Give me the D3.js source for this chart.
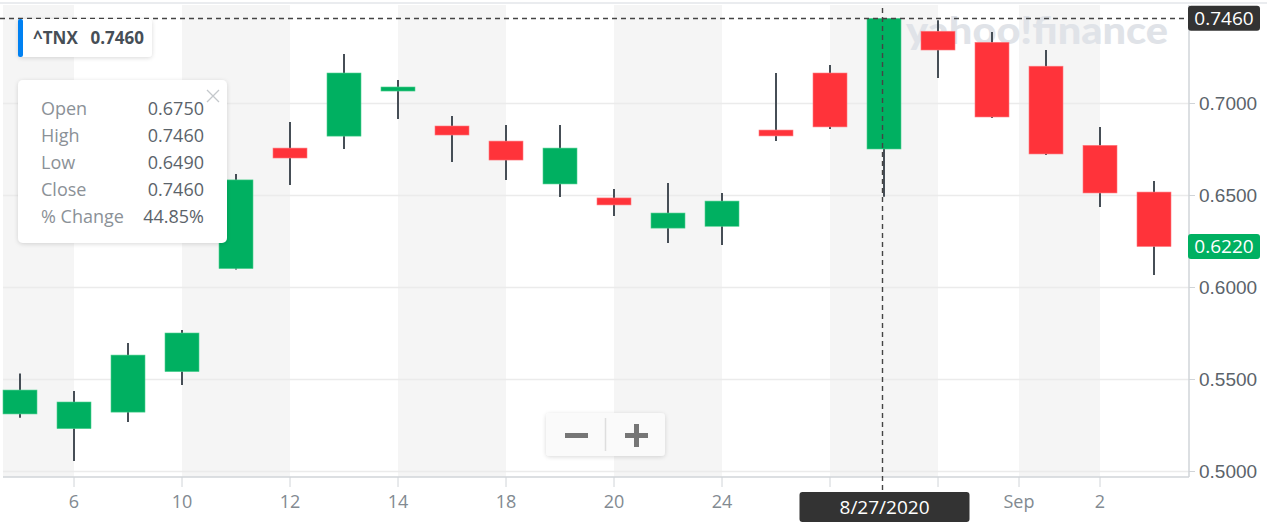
<!DOCTYPE html>
<meta charset="utf-8">
<script src="https://d3js.org/d3.v7.min.js"></script>
<style>
body { margin: 0; background: #fff; }
svg { display: block; font-family: "Open Sans", sans-serif; }
.axis text { fill: #5b636a; font-size: 19px; }
.xaxis text { fill: #828a91; font-size: 18px; }
.wick { stroke: #464e56; stroke-width: 2; }
</style>
<body>
<script>

// daily ^TNX candles, Aug 5 - Sep 3 2020
var dates  = ["2020-08-05","2020-08-06","2020-08-07","2020-08-10","2020-08-11","2020-08-12","2020-08-13","2020-08-14",
              "2020-08-17","2020-08-18","2020-08-19","2020-08-20","2020-08-21","2020-08-24","2020-08-25","2020-08-26",
              "2020-08-27","2020-08-28","2020-08-31","2020-09-01","2020-09-02","2020-09-03"];
var opens  = [0.531,0.523,0.532,0.554,0.610,0.6755,0.682,0.7065,0.6875,0.6793,0.656,0.6484,0.632,0.633,0.6853,0.7163,0.675,0.739,0.733,0.720,0.677,0.6516];
var highs  = [0.553,0.5435,0.5696,0.5766,0.6614,0.6897,0.7266,0.7125,0.6929,0.688,0.688,0.6533,0.6565,0.6511,0.7163,0.7207,0.746,0.745,0.7386,0.7288,0.687,0.6576];
var lows   = [0.529,0.5054,0.5266,0.5467,0.6095,0.6554,0.675,0.6913,0.6679,0.6582,0.6489,0.6386,0.6239,0.6228,0.6793,0.6859,0.649,0.7136,0.6918,0.6717,0.6435,0.6065];
var closes = [0.544,0.5375,0.563,0.575,0.6582,0.6701,0.7163,0.7087,0.6826,0.669,0.6755,0.6446,0.6402,0.6467,0.6821,0.687,0.746,0.7288,0.6924,0.6723,0.6511,0.622];

var tickDates  = ["2020-08-06","2020-08-10","2020-08-12","2020-08-14","2020-08-18","2020-08-20","2020-08-24","2020-08-26","2020-08-28","2020-09-01","2020-09-02"];
var tickLabels = ["6","10","12","14","18","20","24","26","28","Sep","2"];
var yTicks = [0.50, 0.55, 0.60, 0.65, 0.70];

var tipLabels = ["Open","High","Low","Close","% Change"];
var tipValues = ["0.6750","0.7460","0.6490","0.7460","44.85%"];

var W = 1267, H = 531;
var plot = {left: 3, right: 1189, top: 5, bottom: 477};
var green = "#00b061", red = "#ff333a";

var svg = d3.select("body").append("svg").attr("width", W).attr("height", H);

var defs = svg.append("defs");
var f = defs.append("filter").attr("id", "shadow").attr("x", "-20%").attr("y", "-20%").attr("width", "140%").attr("height", "150%");
f.append("feDropShadow").attr("dx", 0).attr("dy", 1).attr("stdDeviation", 2).attr("flood-color", "#000").attr("flood-opacity", 0.15);

var x = d3.scaleBand().domain(dates).range([-7, -7 + 54 * dates.length]).padding(0);
var y = d3.scaleLinear().domain([0.5, 0.7]).range([471, 103]);
var bodyW = 34;
function cx(d) { return x(d) + x.bandwidth() / 2; }

// tick position: band centre, except the month start sits on the band edge
function tickX(d, i) { return tickLabels[i] == "Sep" ? x(d) : cx(d); }

// top rule
svg.append("line").attr("x1", 0).attr("x2", W).attr("y1", 3).attr("y2", 3).attr("stroke", "#e3e6ea").attr("stroke-width", 1.5);

// alternating background bands
var edges = [plot.left].concat(tickDates.map(tickX)).concat([plot.right]);
svg.append("g").selectAll("rect").data(d3.range(edges.length - 1)).enter().append("rect")
  .attr("x", function(i) { return edges[i]; })
  .attr("width", function(i) { return edges[i + 1] - edges[i]; })
  .attr("y", plot.top).attr("height", plot.bottom - plot.top)
  .attr("fill", function(i) { return i % 2 == 0 ? "#f5f5f5" : "#fff"; });

// horizontal grid
svg.append("g").selectAll("line").data(yTicks).enter().append("line")
  .attr("x1", plot.left).attr("x2", plot.right)
  .attr("y1", function(d) { return Math.round(y(d)) + 0.5; })
  .attr("y2", function(d) { return Math.round(y(d)) + 0.5; })
  .attr("stroke", "#ebebeb").attr("stroke-width", 1.5);

// watermark
svg.append("text").attr("x", 906).attr("y", 44)
  .attr("textLength", 262).attr("lengthAdjust", "spacingAndGlyphs")
  .style("font-family", "Lato, sans-serif").style("font-weight", 900).style("font-size", "37px")
  .attr("fill", "#e0e3e8").text("yahoo!finance");

// candles
var candles = svg.append("g").selectAll("g").data(dates).enter().append("g");
candles.append("line").attr("class", "wick")
  .attr("x1", cx).attr("x2", cx)
  .attr("y1", function(d, i) { return y(highs[i]); })
  .attr("y2", function(d, i) { return y(lows[i]); });
candles.append("rect")
  .attr("x", function(d) { return cx(d) - bodyW / 2; })
  .attr("width", bodyW)
  .attr("y", function(d, i) { return y(Math.max(opens[i], closes[i])); })
  .attr("height", function(d, i) { return Math.max(3, Math.abs(y(opens[i]) - y(closes[i]))); })
  .attr("fill", function(d, i) { return closes[i] >= opens[i] ? green : red; })
  .attr("stroke", function(d, i) { return closes[i] >= opens[i] ? "#4fd08f" : "#ff7a7f"; })
  .attr("stroke-width", 0.6);

// right axis
var yAxis = d3.axisRight(y).tickValues(yTicks).tickSize(6).tickPadding(4).tickFormat(d3.format(".4f"));
var ya = svg.append("g").attr("class", "axis").attr("transform", "translate(" + plot.right + ",0)").call(yAxis);
ya.select(".domain").remove();
ya.selectAll(".tick line").attr("stroke", "#d0d4d8");
svg.append("line").attr("x1", plot.right).attr("x2", plot.right).attr("y1", plot.top).attr("y2", plot.bottom).attr("stroke", "#d0d4d8").attr("stroke-width", 1.5);

// bottom axis
svg.append("line").attr("x1", plot.left).attr("x2", plot.right).attr("y1", plot.bottom).attr("y2", plot.bottom).attr("stroke", "#d0d4d8").attr("stroke-width", 1.5);
var xa = svg.append("g").attr("class", "xaxis").selectAll("g").data(tickDates).enter().append("g")
  .attr("transform", function(d, i) { return "translate(" + tickX(d, i) + "," + plot.bottom + ")"; });
xa.append("line").attr("y2", 10).attr("stroke", "#d0d4d8");
xa.append("text").attr("y", 31).attr("text-anchor", "middle").text(function(d, i) { return tickLabels[i]; });

// crosshair
var hx = Math.round(cx("2020-08-27")) - 1.5;
var hy = Math.round(y(0.746)) + 0.5;
svg.append("line").attr("x1", 0).attr("x2", plot.right).attr("y1", hy).attr("y2", hy)
  .attr("stroke", "#444").attr("stroke-dasharray", "5,4").attr("stroke-width", 1.4);
svg.append("line").attr("x1", hx).attr("x2", hx).attr("y1", plot.top + 3).attr("y2", 492)
  .attr("stroke", "#444").attr("stroke-dasharray", "5,4").attr("stroke-width", 1.4);

// price labels on the axis
function priceTag(v, fill) {
  var g = svg.append("g").attr("transform", "translate(1188," + y(v) + ")");
  g.append("rect").attr("x", 0).attr("y", -12.5).attr("width", 72).attr("height", 25).attr("rx", 3).attr("fill", fill);
  g.append("text").attr("x", 36).attr("dy", "0.35em").attr("text-anchor", "middle")
    .attr("fill", "#fff").style("font-size", "19px").text(d3.format(".4f")(v));
}
priceTag(0.746, "#333");
priceTag(0.622, green);

// date label
var dl = svg.append("g").attr("transform", "translate(" + (hx + 2) + ",507)");
dl.append("rect").attr("x", -85).attr("y", -15).attr("width", 170).attr("height", 30).attr("rx", 3).attr("fill", "#333");
dl.append("text").attr("dy", "0.35em").attr("text-anchor", "middle").attr("fill", "#fff").style("font-size", "19px").text("8/27/2020");

// symbol legend
var lg = svg.append("g").attr("transform", "translate(18,19)");
lg.append("rect").attr("width", 134).attr("height", 38).attr("rx", 4).attr("fill", "#fff").attr("filter", "url(#shadow)");
lg.append("rect").attr("width", 5).attr("height", 38).attr("rx", 2).attr("fill", "#0081f2");
lg.append("text").attr("x", 15).attr("y", 25).attr("fill", "#464e56").style("font-size", "17px").style("font-weight", 700).text("^TNX");
lg.append("text").attr("x", 126).attr("y", 25).attr("text-anchor", "end").attr("fill", "#464e56").style("font-size", "17px").style("font-weight", 700).text("0.7460");

// tooltip
var tt = svg.append("g").attr("transform", "translate(18,80)");
tt.append("rect").attr("width", 209).attr("height", 163).attr("rx", 5).attr("fill", "#fff").attr("filter", "url(#shadow)");
tt.selectAll(".lab").data(tipLabels).enter().append("text")
  .attr("x", 23).attr("y", function(d, i) { return 35 + i * 27; })
  .attr("fill", "#8b9197").style("font-size", "18px").text(function(d) { return d; });
tt.selectAll(".val").data(tipValues).enter().append("text")
  .attr("x", 186).attr("y", function(d, i) { return 35 + i * 27; }).attr("text-anchor", "end")
  .attr("fill", "#5b636a").style("font-size", "18px").text(function(d) { return d; });
tt.append("path").attr("d", "M189,10L201,22M201,10L189,22").attr("stroke", "#c4c8cc").attr("stroke-width", 1.3);

// zoom buttons
var zb = svg.append("g").attr("transform", "translate(546,413)");
zb.append("rect").attr("width", 119).attr("height", 43).attr("rx", 4).attr("fill", "#fafafa").attr("filter", "url(#shadow)");
zb.append("line").attr("x1", 59.5).attr("x2", 59.5).attr("y1", 5).attr("y2", 38).attr("stroke", "#dedede").attr("stroke-width", 1.5);
zb.append("rect").attr("x", 19).attr("y", 20).attr("width", 23).attr("height", 5).attr("fill", "#767676");
zb.append("rect").attr("x", 79).attr("y", 20).attr("width", 23).attr("height", 5).attr("fill", "#767676");
zb.append("rect").attr("x", 88).attr("y", 11).attr("width", 5).attr("height", 23).attr("fill", "#767676");

</script>
</body>
